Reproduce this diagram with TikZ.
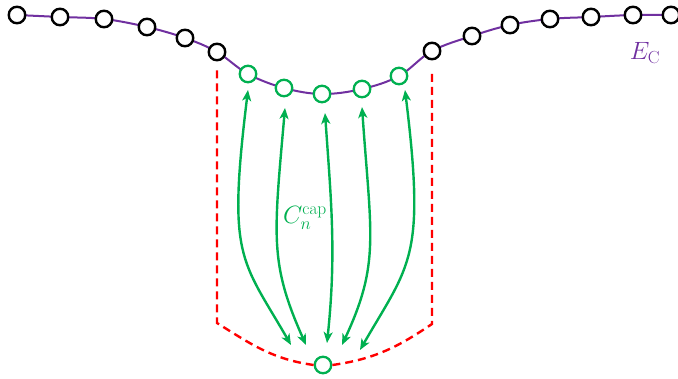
\RequirePackage{fix-cm}
\documentclass[tikz,border=0pt]{standalone}
\usetikzlibrary{arrows.meta,backgrounds}
\definecolor{ecpurple}{RGB}{112,48,160}
\definecolor{capgreen}{RGB}{0,176,80}
\definecolor{capred}{RGB}{255,0,0}
\tikzset{
  bnode/.style={circle,draw=black,line width=2.4pt,fill=white,minimum size=16.5pt,inner sep=0pt},
  gnode/.style={circle,draw=capgreen,line width=2.3pt,fill=white,minimum size=16.5pt,inner sep=0pt},
  curveline/.style={draw=ecpurple,line width=2pt},
  reddash/.style={draw=capred,line width=2.4pt,dash pattern=on 8pt off 5pt},
  garrow/.style={draw=capgreen,line width=2.4pt,{Stealth[length=11pt,width=9pt,inset=3pt]}-{Stealth[length=11pt,width=9pt,inset=3pt]}},
  lbl/.style={font=\fontsize{25}{30}\selectfont}
}
\begin{document}
\begin{tikzpicture}[x=1pt,y=1pt]
\useasboundingbox (0,0) rectangle (678,379);
% nodes
\node[bnode] (b1) at (17,364) {};
\node[bnode] (b2) at (60,362) {};
\node[bnode] (b3) at (104,360) {};
\node[bnode] (b4) at (147,352) {};
\node[bnode] (b5) at (185,341) {};
\node[bnode] (b6) at (217,327) {};
\node[gnode] (g1) at (248,305) {};
\node[gnode] (g2) at (284,291) {};
\node[gnode] (g3) at (322,285) {};
\node[gnode] (g4) at (362,290) {};
\node[gnode] (g5) at (399,303) {};
\node[bnode] (b7) at (432,328) {};
\node[bnode] (b8) at (472,343) {};
\node[bnode] (b9) at (510,354) {};
\node[bnode] (b10) at (550,360) {};
\node[bnode] (b11) at (591,362) {};
\node[bnode] (b12) at (633,364) {};
\node[bnode] (b13) at (671,364) {};
\node[gnode] (bot) at (323,14) {};
% purple curve behind the nodes
\begin{scope}[on background layer]
\draw[curveline] plot[smooth,tension=0.6] coordinates {(b1) (b2) (b3) (b4) (b5) (b6) (g1) (g2) (g3) (g4) (g5) (b7) (b8) (b9) (b10) (b11) (b12) (b13)};
\end{scope}
% red dashed outline
\coordinate (cl) at (216,56);
\coordinate (cr) at (432,55);
\draw[reddash,shorten <=9pt] (b6.south) -- (b6|-cl) to[out=-32,in=172] (bot.west);
\draw[reddash,shorten >=9pt] (bot.east) to[out=8,in=-146] (cr) -- (b7.south);
% free ends of the green arrows, near the nodes
\path (bot) ++(-32,20) coordinate (s1) (bot) ++(-17,20) coordinate (s2)
      (bot) ++(4,22) coordinate (s3) (bot) ++(19,20) coordinate (s4)
      (bot) ++(37,15) coordinate (s5);
\path (g1) ++(0,-16) coordinate (e1) (g2) ++(1,-20) coordinate (e2)
      (g3) ++(3,-19) coordinate (e3) (g4) ++(0,-18) coordinate (e4)
      (g5) ++(6,-14) coordinate (e5);
% green arrows
\draw[garrow] (s1) .. controls +(120:100) and +(-97:170) .. (e1);
\draw[garrow] (s2) .. controls +(114:90) and +(-95:130) .. (e2);
\draw[garrow] (s3) .. controls +(84:90) and +(-86:90) .. (e3);
\draw[garrow] (s4) .. controls +(65:90) and +(-86:130) .. (e4);
\draw[garrow] (s5) .. controls +(60:100) and +(-83:170) .. (e5);
% labels
\node[lbl,text=capgreen] (lcap) at (305,161) {$C_n^{\mathrm{cap}}$};
\node[lbl,text=ecpurple] (lec) at (645,326) {$E_{\mathrm{C}}$};
\end{tikzpicture}
\end{document}
